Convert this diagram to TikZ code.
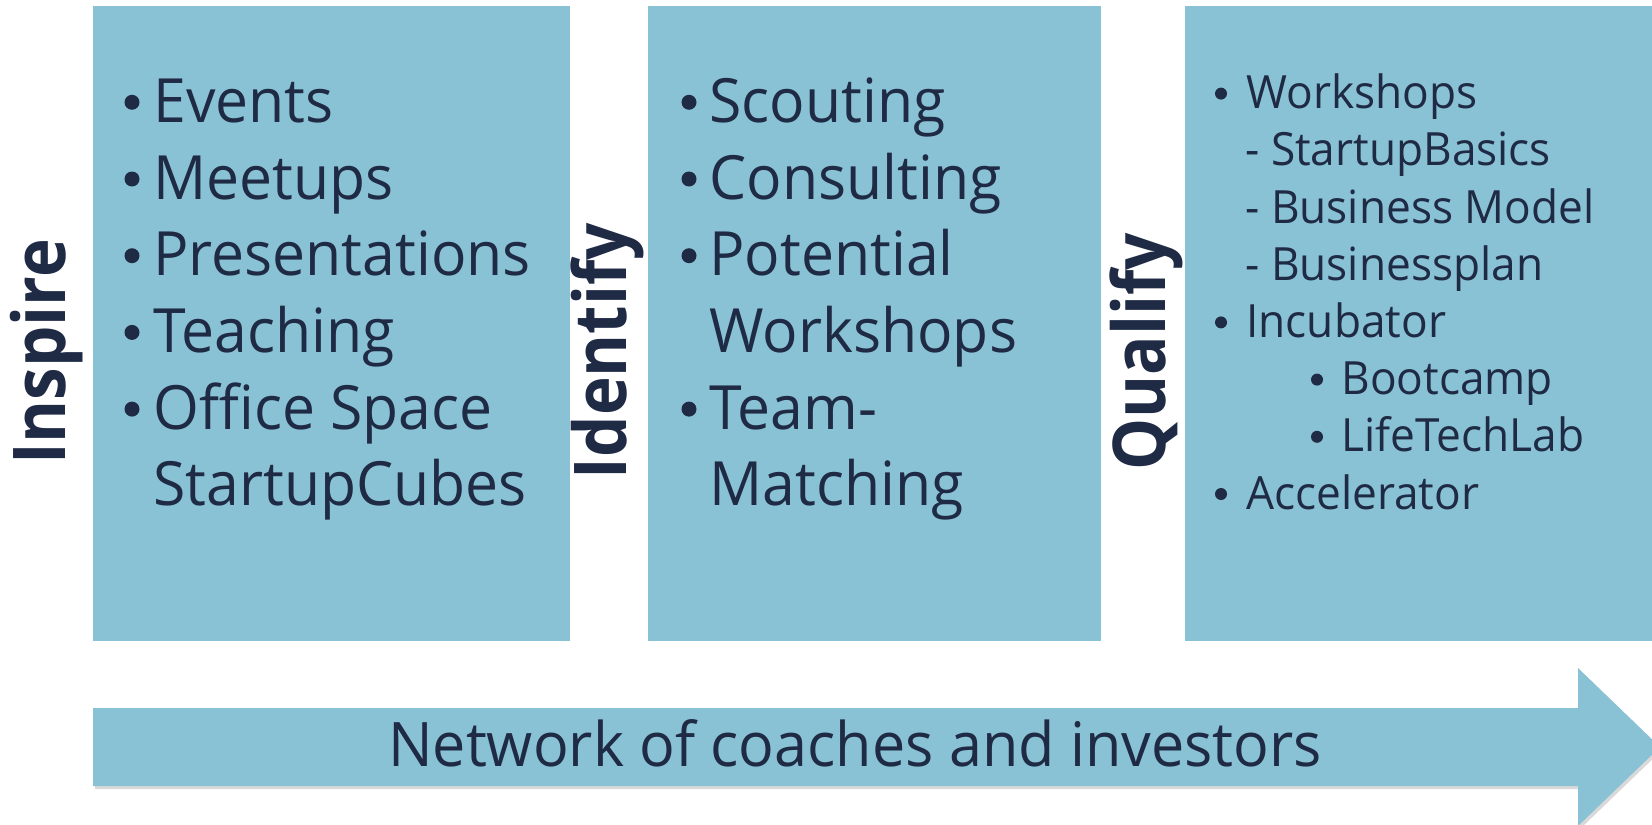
\documentclass[tikz,border=0pt]{standalone}
\usepackage{fontspec}
\setmainfont{Open Sans}[FakeStretch=0.965]
\newfontfamily\phasefont{Open Sans}[FakeStretch=0.90]
\usetikzlibrary{shadows}
\definecolor{stageblue}{RGB}{138,194,213}
\definecolor{inkblue}{RGB}{31,42,68}
\tikzset{
	stage/.style={fill=stageblue},
	phase/.style={rotate=90, anchor=base, inner sep=0pt, text=inkblue, font=\phasefont\bfseries\fontsize{36.4}{40}\selectfont},
	item/.style={anchor=base west, inner sep=0pt, text=inkblue, font=\fontsize{30.5}{36}\selectfont},
	subitem/.style={item, font=\fontsize{22.9}{27}\selectfont},
	bulletdot/.style={fill=inkblue},
}

\begin{document}
\begin{tikzpicture}[x=0.5pt,y=-0.5pt]
			\useasboundingbox (0,0) rectangle (1652,824);
			%%%%% STAGES %%%%%
			\fill[stage] (93,6) rectangle (570,641);
			\fill[stage] (648,6) rectangle (1101,641);
			\fill[stage] (1185,6) rectangle (1652,641);
			
			\node[phase] (inspire) at (65,352) {Inspire};
			\node[phase] (identify) at (626,351) {Identify};
			\node[phase] (qualify) at (1165,352) {Qualify};
			
			%%%%% INSPIRE %%%%%
			\foreach \txt [count=\i from 0] in {Events,Meetups,Presentations,Teaching,Office Space,StartupCubes}
				\node[item] (inspire-\i) at (153,122.3+76.7*\i) {\txt};
			\foreach \i in {0,...,4}
				\fill[bulletdot] (132,102.3+76.7*\i) circle (7.5);
			
			%%%%% IDENTIFY %%%%%
			\foreach \txt [count=\i from 0] in {Scouting,Consulting,Potential,Workshops,Team-,Matching}
				\node[item] (identify-\i) at (709,122.3+76.7*\i) {\txt};
			\foreach \i in {0,1,2,4}
				\fill[bulletdot] (689,102.3+76.7*\i) circle (7.5);
			
			%%%%% QUALIFY %%%%%
			\foreach \xx/\txt [count=\i from 0] in {1246/Workshops,1245/- StartupBasics,1245/- Business Model,1245/- Businessplan,1246/Incubator,1341/Bootcamp,1341/LifeTechLab,1246/Accelerator}
				\node[subitem] (qualify-\i) at (\xx,108.6+57.2*\i) {\txt};
			\foreach \xx/\i in {1221/0,1221/4,1317/5,1317/6,1221/7}
				\fill[bulletdot] (\xx,93.6+57.2*\i) circle (6);
			
			%%%%% NETWORK %%%%%
			\fill[stage, drop shadow={shadow xshift=1pt, shadow yshift=-1.5pt, opacity=0.3}] (93,708) -- (1578,708) -- (1578,668) -- (1660,747) -- (1578,826) -- (1578,786) -- (93,786) -- cycle;
			\node[item, anchor=base, font=\fontsize{30.7}{36}\selectfont] (network) at (855,766.7) {Network of coaches and investors};
		\end{tikzpicture}
\end{document}
